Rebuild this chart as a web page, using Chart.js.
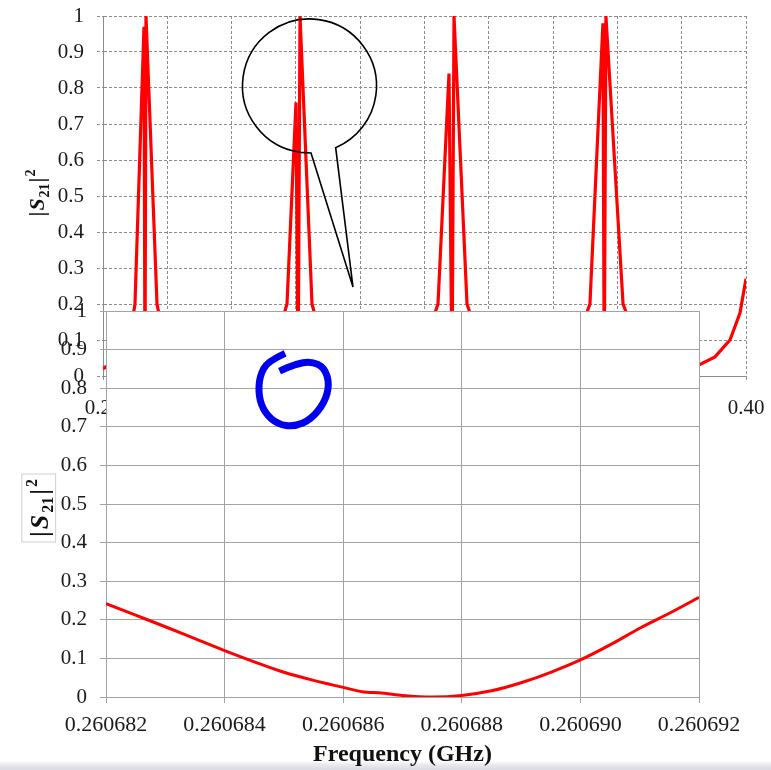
<!DOCTYPE html>
<html>
<head>
<meta charset="utf-8">
<script src="https://cdn.jsdelivr.net/npm/chart.js@4.4.0/dist/chart.umd.min.js"></script>
<style>
  html, body { margin: 0; padding: 0; }
  body {
    width: 771px; height: 770px; position: relative; overflow: hidden;
    background: linear-gradient(to bottom, #fff 0, #fff 761px, #ececf2 764px, #d9d9e1 770px);
  }
  canvas { position: absolute; left: 0; top: 0; }
</style>
</head>
<body>
<canvas id="wideChart" width="771" height="770" style="z-index:1"></canvas>
<canvas id="zoomChart" width="771" height="770" style="z-index:2"></canvas>
<script>
const SERIF = '"Liberation Serif", "Times New Roman", serif';

// wide sweep, 0.20 - 0.40 GHz
const wideFreq = [0.200, 0.205, 0.2085, 0.20995, 0.21275, 0.21306, 0.21337, 0.2168, 0.2190, 0.230,
  0.245, 0.2540, 0.25723, 0.26003, 0.2606874, 0.26128, 0.26501, 0.268, 0.285, 0.300,
  0.30420, 0.30762, 0.30856, 0.30918, 0.31322, 0.317, 0.333, 0.347, 0.35146, 0.35550,
  0.35590, 0.35643, 0.36176, 0.366, 0.375, 0.3857, 0.39036, 0.39502, 0.39813, 0.400];
const wideS21 = [0.02, 0.05, 0.12, 0.2, 0.97, 0.0, 1.0, 0.2, 0.1, 0.03,
  0.04, 0.1, 0.2, 0.76, 0.0, 1.0, 0.2, 0.1, 0.03, 0.09,
  0.2, 0.84, 0.0, 1.0, 0.2, 0.1, 0.03, 0.09, 0.2, 0.98,
  0.0, 1.0, 0.2, 0.1, 0.025, 0.032, 0.053, 0.1, 0.175, 0.27];

// zoom around the second resonance
const zoomFreq = [0.260682, 0.2606825, 0.260683, 0.2606835, 0.260684, 0.2606845, 0.260685, 0.2606855,
  0.260686, 0.2606864, 0.2606866, 0.260687, 0.2606875, 0.260688, 0.2606885, 0.260689,
  0.2606895, 0.260690, 0.2606905, 0.260691, 0.2606915, 0.260692];
const zoomS21 = [0.242, 0.212, 0.182, 0.151, 0.12, 0.091, 0.064, 0.043,
  0.025, 0.012, 0.011, 0.004, 0.0, 0.004, 0.016, 0.037,
  0.064, 0.096, 0.135, 0.178, 0.217, 0.258];

const wideXTicks = [0.20, 0.22, 0.24, 0.26, 0.28, 0.30, 0.32, 0.34, 0.36, 0.38, 0.40];
const zoomXTicks = [0.260682, 0.260684, 0.260686, 0.260688, 0.260690, 0.260692];
const s21Ticks = [0, 0.1, 0.2, 0.3, 0.4, 0.5, 0.6, 0.7, 0.8, 0.9, 1];

const yLabel = v => v === 0 ? '0' : v === 1 ? '1' : v.toFixed(1);

// keep label overhang from pushing the plot area around
function noOverhang(s) {
  s.paddingLeft = s.paddingRight = s.paddingTop = s.paddingBottom = 0;
}

function drawS21(ctx, cx, cy, size, boxed) {
  const big = 'bold ' + size + 'px ' + SERIF;
  const bigIt = 'italic bold ' + size + 'px ' + SERIF;
  const small = 'bold ' + Math.round(size * 0.62) + 'px ' + SERIF;
  const parts = [['|', big, 0], ['S', bigIt, 0], ['21', small, size * 0.22], ['|', big, 0], ['2', small, -size * 0.42]];
  const gap = boxed ? 2 : 1;
  ctx.save();
  ctx.translate(cx, cy);
  ctx.rotate(-Math.PI / 2);
  ctx.textAlign = 'left';
  ctx.textBaseline = 'alphabetic';
  let w = 0;
  parts.forEach(p => { ctx.font = p[1]; w += ctx.measureText(p[0]).width + gap; });
  w -= gap;
  if (boxed) {
    ctx.strokeStyle = '#cfcfcf';
    ctx.lineWidth = 1;
    ctx.strokeRect(-w / 2 - 5, -size * 0.66, w + 10, size * 1.3);
  }
  let x = -w / 2;
  const base = size * 0.33;
  ctx.fillStyle = '#111';
  parts.forEach(p => {
    ctx.font = p[1];
    ctx.fillText(p[0], x, base + p[2]);
    x += ctx.measureText(p[0]).width + gap;
  });
  ctx.restore();
}

const s21Title = {
  id: 's21Title',
  afterDraw(chart, args, o) {
    drawS21(chart.ctx, o.x, o.y, o.size, o.boxed);
  }
};

const whitePlot = {
  id: 'whitePlot',
  beforeDraw(chart) {
    const {ctx, chartArea: a} = chart;
    ctx.save();
    ctx.fillStyle = '#fff';
    ctx.fillRect(a.left, a.top, a.right - a.left, a.bottom - a.top);
    ctx.restore();
  }
};

// speech bubble pointing at the second peak
const callout = {
  id: 'callout',
  afterDraw(chart, args, o) {
    const {ctx, scales: {x, y}} = chart;
    const cx = x.getPixelForValue(o.at[0]), cy = y.getPixelForValue(o.at[1]);
    const tx = x.getPixelForValue(o.tip[0]), ty = y.getPixelForValue(o.tip[1]);
    const r = o.radius;
    ctx.save();
    ctx.strokeStyle = '#000';
    ctx.lineWidth = 1.6;
    ctx.beginPath();
    ctx.arc(cx, cy, r, 98 * Math.PI / 180, (67 + 360) * Math.PI / 180);
    ctx.lineTo(tx, ty);
    ctx.lineTo(cx + 1.5, cy + r);
    ctx.closePath();
    ctx.stroke();
    ctx.restore();
  }
};

// hand drawn blue loop on the zoomed plot
const scribble = {
  id: 'scribble',
  afterDraw(chart, args, o) {
    const {ctx, scales: {x, y}} = chart;
    const ax = x.getPixelForValue(o.at[0]), ay = y.getPixelForValue(o.at[1]);
    const pts = [[-4.7, -41], [-22, -33.3], [-30.3, -18.3], [-31.3, 1.7], [-25.3, 18.3], [-12, 30],
      [4.7, 32.3], [21.3, 25], [34.7, 8.3], [39.7, -10], [34.7, -26.7], [21.3, -33.3], [4.7, -30], [-10.3, -23.3]]
      .map(p => [ax + p[0], ay + p[1]]);
    ctx.save();
    ctx.strokeStyle = '#0000ee';
    ctx.lineWidth = 7;
    ctx.lineJoin = 'round';
    ctx.beginPath();
    ctx.moveTo(pts[0][0], pts[0][1]);
    for (let i = 1; i < pts.length - 1; i++) {
      const mx = (pts[i][0] + pts[i + 1][0]) / 2, my = (pts[i][1] + pts[i + 1][1]) / 2;
      ctx.quadraticCurveTo(pts[i][0], pts[i][1], mx, my);
    }
    ctx.lineTo(pts[pts.length - 1][0], pts[pts.length - 1][1]);
    ctx.stroke();
    ctx.restore();
  }
};

new Chart(document.getElementById('wideChart'), {
  type: 'line',
  data: {
    datasets: [{
      data: wideFreq.map((f, i) => ({x: f, y: wideS21[i]})),
      borderColor: '#ff0000', borderWidth: 3.2, pointRadius: 0, tension: 0
    }]
  },
  options: {
    responsive: false, animation: false, events: [],
    layout: {padding: {left: 0, top: 16, right: 25, bottom: 344}},
    plugins: {
      legend: {display: false}, tooltip: {enabled: false},
      s21Title: {x: 37, y: 193, size: 22, boxed: false},
      callout: {at: [0.26423, 0.8056], tip: [0.27776, 0.247], radius: 67}
    },
    scales: {
      x: {
        type: 'linear', min: 0.2, max: 0.4,
        afterBuildTicks: s => { s.ticks = wideXTicks.map(v => ({value: v})); },
        afterFit: s => { s.height = 50; noOverhang(s); },
        grid: {color: '#8c8c8c', tickLength: 6, tickBorderDash: [3, 2]},
        border: {color: '#8c8c8c', dash: [3, 2]},
        ticks: {font: {family: SERIF, size: 21}, color: '#1a1a1a', padding: 14, maxRotation: 0, autoSkip: false,
          callback: v => v.toFixed(2)}
      },
      y: {
        min: 0, max: 1,
        afterBuildTicks: s => { s.ticks = s21Ticks.map(v => ({value: v})); },
        afterFit: s => { s.width = 103; noOverhang(s); },
        grid: {color: '#8c8c8c', tickLength: 6, tickBorderDash: [3, 2]},
        border: {color: '#8c8c8c', dash: [3, 2]},
        ticks: {font: {family: SERIF, size: 21}, color: '#1a1a1a', padding: 13, callback: yLabel}
      }
    }
  },
  plugins: [s21Title, callout]
});

new Chart(document.getElementById('zoomChart'), {
  type: 'line',
  data: {
    datasets: [{
      data: zoomFreq.map((f, i) => ({x: f, y: zoomS21[i]})),
      borderColor: '#ff0000', borderWidth: 3, pointRadius: 0, cubicInterpolationMode: 'monotone'
    }]
  },
  options: {
    responsive: false, animation: false, events: [],
    layout: {padding: {left: 0, top: 311, right: 72, bottom: 1}},
    plugins: {
      legend: {display: false}, tooltip: {enabled: false},
      s21Title: {x: 39, y: 508, size: 26, boxed: true},
      scribble: {at: [0.2606851, 0.784]}
    },
    scales: {
      x: {
        type: 'linear', min: 0.260682, max: 0.260692,
        afterBuildTicks: s => { s.ticks = zoomXTicks.map(v => ({value: v})); },
        afterFit: s => { s.height = 72; noOverhang(s); },
        grid: {color: '#a3a3a3', tickLength: 6},
        border: {color: '#a3a3a3'},
        ticks: {font: {family: SERIF, size: 22}, color: '#1a1a1a', padding: 9, maxRotation: 0, autoSkip: false,
          callback: v => v.toFixed(6)},
        title: {display: true, text: 'Frequency (GHz)', color: '#111',
          font: {family: SERIF, size: 24, weight: 'bold'}, padding: {top: 0, bottom: 0}}
      },
      y: {
        min: 0, max: 1,
        afterBuildTicks: s => { s.ticks = s21Ticks.map(v => ({value: v})); },
        afterFit: s => { s.width = 106; noOverhang(s); },
        grid: {color: '#a3a3a3', tickLength: 6},
        border: {color: '#a3a3a3'},
        ticks: {font: {family: SERIF, size: 21}, color: '#1a1a1a', padding: 13, callback: yLabel}
      }
    }
  },
  plugins: [whitePlot, s21Title, scribble]
});
</script>
</body>
</html>
